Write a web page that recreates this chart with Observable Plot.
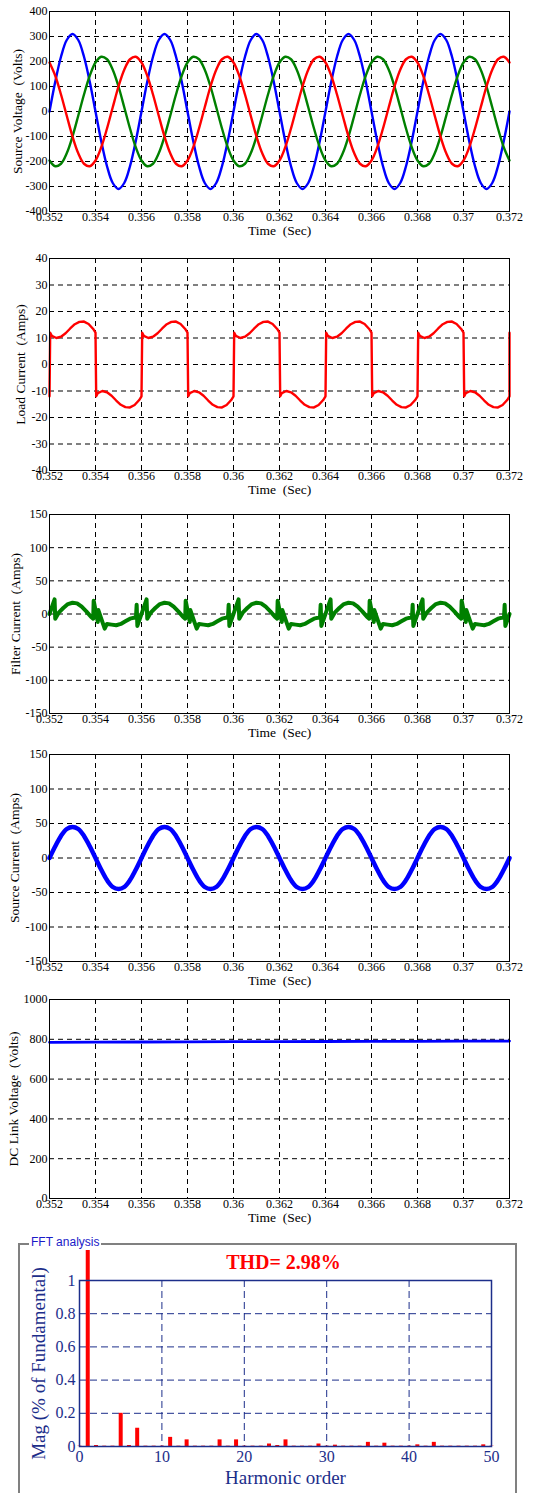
<!DOCTYPE html>
<html>
<head>
<meta charset="utf-8">
<script src="https://cdn.jsdelivr.net/npm/d3@7"></script>
<script src="https://cdn.jsdelivr.net/npm/@observablehq/plot@0.6"></script>
<style>
  html, body { margin: 0; padding: 0; background: #fff; overflow: hidden; }
  #root { position: relative; width: 547px; height: 1493px; overflow: hidden; background: #fff; }
  #root > div.panel { position: absolute; left: 0; }
  #fftbox { position: absolute; left: 18px; top: 1243px; width: 499px; height: 270px; border: 2px solid #808080; box-sizing: border-box; }
  #fftlabel { position: absolute; left: 29px; top: 1235px; font: 12px "Liberation Sans", Arial, sans-serif; color: #1a1ac8; background: #fff; padding: 0 2px; line-height: 14px; z-index: 5; }
</style>
</head>
<body>
<div id="root">
  <div id="fftbox"></div>
  <div id="fftlabel">FFT analysis</div>
</div>
<script>
// ---------------- DATA ----------------
const xTicks = [0.352, 0.354, 0.356, 0.358, 0.36, 0.362, 0.364, 0.366, 0.368, 0.37, 0.372];
const xTickLabels = ["0.352", "0.354", "0.356", "0.358", "0.36", "0.362", "0.364", "0.366", "0.368", "0.37", "0.372"];

// uniformly sampled signals: start time and sample step (s)
const tStart = 0.352;
const dtWave = 0.00025;

// Source voltage (Volts), three phases
const vBlue = [0,119,219,286,310,286,219,119,0,-119,-219,-286,-310,-286,-219,-119,
               0,119,219,286,310,286,219,119,0,-119,-219,-286,-310,-286,-219,-119,
               0,119,219,286,310,286,219,119,0,-119,-219,-286,-310,-286,-219,-119,
               0,119,219,286,310,286,219,119,0,-119,-219,-286,-310,-286,-219,-119,
               0,119,219,286,310,286,219,119,0,-119,-219,-286,-310,-286,-219,-119,
               0];
const vRed = [196,143,68,-17,-100,-167,-209,-219,-196,-143,-68,17,100,167,209,219,
              196,143,68,-17,-100,-167,-209,-219,-196,-143,-68,17,100,167,209,219,
              196,143,68,-17,-100,-167,-209,-219,-196,-143,-68,17,100,167,209,219,
              196,143,68,-17,-100,-167,-209,-219,-196,-143,-68,17,100,167,209,219,
              196,143,68,-17,-100,-167,-209,-219,-196,-143,-68,17,100,167,209,219,
              196];
const vGreen = [-196,-219,-209,-167,-100,-17,68,143,196,219,209,167,100,17,-68,-143,
                -196,-219,-209,-167,-100,-17,68,143,196,219,209,167,100,17,-68,-143,
                -196,-219,-209,-167,-100,-17,68,143,196,219,209,167,100,17,-68,-143,
                -196,-219,-209,-167,-100,-17,68,143,196,219,209,167,100,17,-68,-143,
                -196,-219,-209,-167,-100,-17,68,143,196,219,209,167,100,17,-68,-143,
                -196];

// Load current (Amps)
const loadT = [0.352,0.35203,0.3521,0.3523,0.3525,0.3527,0.3529,0.3531,0.3533,0.3535,0.3537,0.3539,
               0.354,0.35403,0.3541,0.3543,0.3545,0.3547,0.3549,0.3551,0.3553,0.3555,0.3557,0.3559,
               0.356,0.35603,0.3561,0.3563,0.3565,0.3567,0.3569,0.3571,0.3573,0.3575,0.3577,0.3579,
               0.358,0.35803,0.3581,0.3583,0.3585,0.3587,0.3589,0.3591,0.3593,0.3595,0.3597,0.3599,
               0.36,0.36003,0.3601,0.3603,0.3605,0.3607,0.3609,0.3611,0.3613,0.3615,0.3617,0.3619,
               0.362,0.36203,0.3621,0.3623,0.3625,0.3627,0.3629,0.3631,0.3633,0.3635,0.3637,0.3639,
               0.364,0.36403,0.3641,0.3643,0.3645,0.3647,0.3649,0.3651,0.3653,0.3655,0.3657,0.3659,
               0.366,0.36603,0.3661,0.3663,0.3665,0.3667,0.3669,0.3671,0.3673,0.3675,0.3677,0.3679,
               0.368,0.36803,0.3681,0.3683,0.3685,0.3687,0.3689,0.3691,0.3693,0.3695,0.3697,0.3699,
               0.37,0.37003,0.3701,0.3703,0.3705,0.3707,0.3709,0.3711,0.3713,0.3715,0.3717,0.3719,
               0.372,0.372];
const loadI = [-12,12,10.8,10,10.5,11.8,13.6,15.2,16.1,16.2,15.3,13.4,
               12,-12,-10.8,-10,-10.5,-11.8,-13.6,-15.2,-16.1,-16.2,-15.3,-13.4,
               -12,12,10.8,10,10.5,11.8,13.6,15.2,16.1,16.2,15.3,13.4,
               12,-12,-10.8,-10,-10.5,-11.8,-13.6,-15.2,-16.1,-16.2,-15.3,-13.4,
               -12,12,10.8,10,10.5,11.8,13.6,15.2,16.1,16.2,15.3,13.4,
               12,-12,-10.8,-10,-10.5,-11.8,-13.6,-15.2,-16.1,-16.2,-15.3,-13.4,
               -12,12,10.8,10,10.5,11.8,13.6,15.2,16.1,16.2,15.3,13.4,
               12,-12,-10.8,-10,-10.5,-11.8,-13.6,-15.2,-16.1,-16.2,-15.3,-13.4,
               -12,12,10.8,10,10.5,11.8,13.6,15.2,16.1,16.2,15.3,13.4,
               12,-12,-10.8,-10,-10.5,-11.8,-13.6,-15.2,-16.1,-16.2,-15.3,-13.4,
               -12,12];

// Filter current (Amps)
const filtT = [0.352,0.35222,0.35225,0.3524,0.3526,0.3528,0.353,0.3532,0.3534,0.3536,0.3538,0.3539,0.35392,0.3541,0.35412,0.3544,0.3545,0.3547,0.3549,0.3551,0.3553,0.3555,0.35576,0.35579,0.35582,
               0.35622,0.35625,0.3564,0.3566,0.3568,0.357,0.3572,0.3574,0.3576,0.3578,0.3579,0.35792,0.3581,0.35812,0.3584,0.3585,0.3587,0.3589,0.3591,0.3593,0.3595,0.35976,0.35979,0.35982,
               0.36022,0.36025,0.3604,0.3606,0.3608,0.361,0.3612,0.3614,0.3616,0.3618,0.3619,0.36192,0.3621,0.36212,0.3624,0.3625,0.3627,0.3629,0.3631,0.3633,0.3635,0.36376,0.36379,0.36382,
               0.36422,0.36425,0.3644,0.3646,0.3648,0.365,0.3652,0.3654,0.3656,0.3658,0.3659,0.36592,0.3661,0.36612,0.3664,0.3665,0.3667,0.3669,0.3671,0.3673,0.3675,0.36776,0.36779,0.36782,
               0.36822,0.36825,0.3684,0.3686,0.3688,0.369,0.3692,0.3694,0.3696,0.3698,0.3699,0.36992,0.3701,0.37012,0.3704,0.3705,0.3707,0.3709,0.3711,0.3713,0.3715,0.37176,0.37179,0.37182,
               0.372];
const filtI = [0,22,-7,2,9,15,17,16,11,4,-4,-7,20,-12,6,-22,-15,-16,-17,-15,-11,-7,-5,14,-18,
               22,-7,2,9,15,17,16,11,4,-4,-7,20,-12,6,-22,-15,-16,-17,-15,-11,-7,-5,14,-18,
               22,-7,2,9,15,17,16,11,4,-4,-7,20,-12,6,-22,-15,-16,-17,-15,-11,-7,-5,14,-18,
               22,-7,2,9,15,17,16,11,4,-4,-7,20,-12,6,-22,-15,-16,-17,-15,-11,-7,-5,14,-18,
               22,-7,2,9,15,17,16,11,4,-4,-7,20,-12,6,-22,-15,-16,-17,-15,-11,-7,-5,14,-18,
               0];

// Source current (Amps), same sampling as the voltages
const iSource = [0,17,32,42,45,42,32,17,0,-17,-32,-42,-45,-42,-32,-17,
                 0,17,32,42,45,42,32,17,0,-17,-32,-42,-45,-42,-32,-17,
                 0,17,32,42,45,42,32,17,0,-17,-32,-42,-45,-42,-32,-17,
                 0,17,32,42,45,42,32,17,0,-17,-32,-42,-45,-42,-32,-17,
                 0,17,32,42,45,42,32,17,0,-17,-32,-42,-45,-42,-32,-17,
                 0];

// DC link voltage (Volts), sampled every 2 ms
const dcT = [0.352,0.354,0.356,0.358,0.36,0.362,0.364,0.366,0.368,0.37,0.372];
const dcV = [785,786,786.5,787,788,788.5,789,789.5,790,790.5,791];

// FFT: harmonic order and magnitude
const harmonics = [0,1,2,3,4,5,6,7,8,9,10,11,12,13,14,15,16,17,18,19,20,21,22,23,24,25,26,27,28,29,30,31,32,33,34,35,36,37,38,39,40,41,42,43,44,45,46,47,48,49,50];
const magnitude = [0.002,1.18,0.006,0.002,0.002,0.2,0.006,0.11,0.002,0.002,0.002,0.055,0.002,0.04,0.002,0.002,0.002,0.04,0.002,0.04,0.002,0.002,0.002,0.015,0.006,0.04,0.002,0.002,0.002,0.015,0.002,0.008,0.002,0.002,0.002,0.025,0.002,0.02,0.002,0.002,0.002,0.01,0.002,0.025,0.002,0.002,0.002,0.002,0.002,0.01,0.002];
const fftXTicks = [0,10,20,30,40,50];
const fftYTicks = [0,0.2,0.4,0.6,0.8,1];
const thdText = "THD= 2.98%";

// ---------------- DRAW ----------------
const root = document.getElementById("root");
const serif = "'Liberation Serif', 'Times New Roman', serif";

function sampled(values) {
  return values.map((v, i) => ({t: tStart + i * dtWave, v}));
}
function paired(ts, vs) {
  return ts.map((t, i) => ({t, v: vs[i]}));
}

function panel({top, h, yDomain, yTicks, yLabel, labelX, series}) {
  const mt = 10, mb = 36, ml = 49;
  const fmt = d => xTickLabels[xTicks.indexOf(d)];
  const svg = Plot.plot({
    width: 547,
    height: mt + h + mb,
    marginLeft: ml,
    marginRight: 38,
    marginTop: mt,
    marginBottom: mb,
    style: {fontFamily: serif, fontSize: "12px", background: "transparent", overflow: "visible", color: "#000"},
    x: {domain: [0.352, 0.372]},
    y: {domain: yDomain},
    marks: [
      Plot.gridX(xTicks, {stroke: "#000", strokeOpacity: 1, strokeDasharray: "5,4"}),
      Plot.gridY(yTicks, {stroke: "#000", strokeOpacity: 1, strokeDasharray: "5,4"}),
      ...series.map(s => Plot.line(s.data, {x: "t", y: "v", stroke: s.color, strokeWidth: s.width, curve: s.curve || "linear"})),
      Plot.frame({stroke: "#000", strokeWidth: 1}),
      Plot.axisX({ticks: xTicks, tickSize: 0, tickPadding: 1, tickFormat: fmt, fontSize: 12, label: null}),
      Plot.axisY({ticks: yTicks, tickSize: 0, tickPadding: 2, tickFormat: d => String(d), fontSize: 12, label: null}),
      Plot.text(["Time\u00a0 (Sec)"], {text: d => d, frameAnchor: "bottom", textAnchor: "middle", lineAnchor: "middle", dy: 19, fontSize: 13.5}),
      Plot.text([yLabel], {text: d => d, frameAnchor: "left", textAnchor: "middle", lineAnchor: "middle", dx: labelX - ml, rotate: -90, fontSize: 13.5})
    ]
  });
  const wrap = document.createElement("div");
  wrap.className = "panel";
  wrap.style.top = (top - mt) + "px";
  wrap.appendChild(svg);
  root.appendChild(wrap);
}

panel({
  top: 11, h: 200, yDomain: [-400, 400], yTicks: d3.range(-400, 401, 100),
  yLabel: "Source Voltage\u00a0 (Volts)", labelX: 17,
  series: [
    {data: sampled(vBlue), color: "#0000ff", width: 2.4, curve: "catmull-rom"},
    {data: sampled(vGreen), color: "#008000", width: 2.4, curve: "catmull-rom"},
    {data: sampled(vRed), color: "#ff0000", width: 2.4, curve: "catmull-rom"}
  ]
});

panel({
  top: 258, h: 212, yDomain: [-40, 40], yTicks: d3.range(-40, 41, 10),
  yLabel: "Load Current\u00a0 (Amps)", labelX: 20.5,
  series: [{data: paired(loadT, loadI), color: "#ff0000", width: 2.4}]
});

panel({
  top: 514, h: 199, yDomain: [-150, 150], yTicks: d3.range(-150, 151, 50),
  yLabel: "Filter Current\u00a0 (Amps)", labelX: 15,
  series: [{data: paired(filtT, filtI), color: "#008000", width: 4}]
});

panel({
  top: 754, h: 207, yDomain: [-150, 150], yTicks: d3.range(-150, 151, 50),
  yLabel: "Source Current\u00a0 (Amps)", labelX: 14,
  series: [{data: sampled(iSource), color: "#0000ff", width: 4.5, curve: "catmull-rom"}]
});

panel({
  top: 999, h: 199, yDomain: [0, 1000], yTicks: d3.range(0, 1001, 200),
  yLabel: "DC Link Voltage\u00a0 (Volts)", labelX: 13,
  series: [{data: paired(dcT, dcV), color: "#0000ff", width: 2.8}]
});

// FFT panel
{
  const navy = "#1c2e8a";
  const fft = harmonics.map((h, i) => ({h, m: magnitude[i]}));
  const top = 1280, h = 166, mt = 40, ml = 79;
  const svg = Plot.plot({
    width: 547,
    height: 1493 - (top - mt),
    marginLeft: ml,
    marginRight: 56,
    marginTop: mt,
    marginBottom: 1493 - (top + h),
    style: {fontFamily: serif, fontSize: "16px", background: "transparent", overflow: "visible", color: navy},
    x: {domain: [0, 50]},
    y: {domain: [0, 1]},
    marks: [
      Plot.gridX([10, 20, 30, 40], {stroke: navy, strokeOpacity: 1, strokeDasharray: "7,4"}),
      Plot.gridY([0.2, 0.4, 0.6, 0.8], {stroke: navy, strokeOpacity: 1, strokeDasharray: "7,4"}),
      Plot.ruleX(fft, {x: "h", y1: 0, y2: "m", stroke: "#ff0000", strokeWidth: 4}),
      Plot.frame({stroke: navy, strokeWidth: 1.5}),
      Plot.axisX({ticks: fftXTicks, tickSize: 0, tickPadding: 4, tickFormat: d => String(d), fontSize: 16, label: null}),
      Plot.axisY({ticks: fftYTicks, tickSize: 0, tickPadding: 4, tickFormat: d => String(d), fontSize: 16, label: null}),
      Plot.text(["Harmonic order"], {text: d => d, frameAnchor: "bottom", textAnchor: "middle", lineAnchor: "middle", dy: 31, fontSize: 19}),
      Plot.text(["Mag (% of Fundamental)"], {text: d => d, frameAnchor: "left", textAnchor: "middle", lineAnchor: "middle", dx: 38 - ml, rotate: -90, fontSize: 19}),
      Plot.text([thdText], {text: d => d, frameAnchor: "top", textAnchor: "middle", lineAnchor: "middle", dx: -2, dy: -18, fontSize: 20, fontWeight: "bold", fill: "#ff0000"})
    ]
  });
  const wrap = document.createElement("div");
  wrap.className = "panel";
  wrap.style.top = (top - mt) + "px";
  wrap.appendChild(svg);
  root.appendChild(wrap);
}
</script>
</body>
</html>
